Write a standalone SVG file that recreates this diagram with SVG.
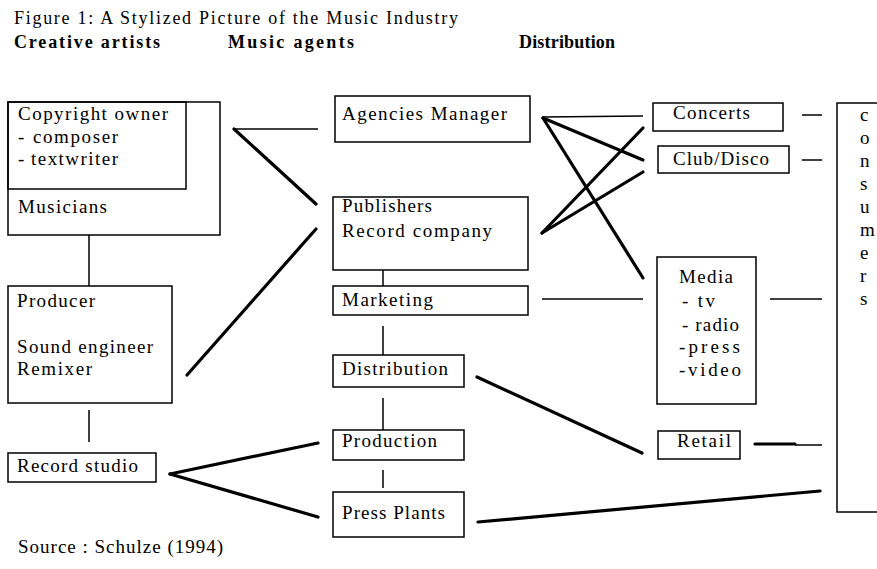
<svg xmlns="http://www.w3.org/2000/svg" width="877" height="569" viewBox="0 0 877 569">
<style>
text{font-family:"Liberation Serif","Times New Roman",serif;font-size:19px;fill:#000}
.t{font-size:18px}
.h{font-size:18px;font-weight:bold}
.box{fill:none;stroke:#000;stroke-width:1.5}
.thin{stroke:#000;stroke-width:1.5;fill:none}
.thick{stroke:#000;stroke-width:3.2;fill:none;stroke-linecap:round}
</style>
<rect width="877" height="569" fill="#fff"/>
<text class="t" x="14" y="24" textLength="444" lengthAdjust="spacing">Figure 1: A Stylized Picture of the Music Industry</text>
<text class="h" x="14" y="48" textLength="146" lengthAdjust="spacing">Creative artists</text>
<text class="h" x="228" y="48" textLength="126" lengthAdjust="spacing">Music agents</text>
<text class="h" x="519" y="48" textLength="96" lengthAdjust="spacing">Distribution</text>

<g id="connectors">
<line class="thin" x1="89" y1="235" x2="89" y2="286"/>
<line class="thin" x1="89" y1="410" x2="89" y2="442"/>
<line class="thin" x1="234" y1="129" x2="318" y2="129"/>
<line class="thick" x1="234" y1="129" x2="316" y2="204"/>
<line class="thick" x1="187" y1="375" x2="316" y2="229"/>
<line class="thin" x1="383" y1="270" x2="383" y2="286"/>
<line class="thin" x1="383" y1="326" x2="383" y2="355"/>
<line class="thin" x1="383" y1="398" x2="383" y2="430"/>
<line class="thin" x1="383" y1="470" x2="383" y2="488"/>
<line class="thin" x1="543" y1="117" x2="643" y2="116"/>
<line class="thick" x1="543" y1="118" x2="643" y2="160"/>
<line class="thick" x1="543" y1="118" x2="643" y2="278"/>
<line class="thick" x1="542" y1="233" x2="643" y2="128"/>
<line class="thick" x1="542" y1="233" x2="643" y2="172"/>
<line class="thin" x1="542" y1="299" x2="643" y2="299"/>
<line class="thin" x1="770" y1="299" x2="822" y2="299"/>
<line class="thin" x1="802" y1="115" x2="822" y2="115"/>
<line class="thin" x1="802" y1="160" x2="822" y2="160"/>
<line class="thick" x1="477" y1="377" x2="642" y2="453"/>
<line class="thick" x1="755" y1="444" x2="795" y2="444"/>
<line class="thin" x1="795" y1="445" x2="822" y2="445"/>
<line class="thick" x1="170" y1="474" x2="318" y2="443"/>
<line class="thick" x1="170" y1="474" x2="318" y2="517"/>
<line class="thick" x1="478" y1="522" x2="820" y2="491"/>
</g>

<g id="musicians">
<rect class="box" x="8" y="102" width="212" height="133"/>
<text x="18" y="213" textLength="89" lengthAdjust="spacing">Musicians</text>
</g>
<g id="copyright-owner">
<rect class="box" x="8" y="102" width="178" height="87"/>
<text x="18" y="120" textLength="150" lengthAdjust="spacing">Copyright owner</text>
<text y="143"><tspan x="18">-</tspan><tspan x="33" textLength="85" lengthAdjust="spacing">composer</tspan></text>
<text y="165"><tspan x="18">-</tspan><tspan x="31" textLength="87" lengthAdjust="spacing">textwriter</tspan></text>
</g>
<g id="producer">
<rect class="box" x="8" y="286" width="164" height="117"/>
<text x="17" y="307" textLength="78" lengthAdjust="spacing">Producer</text>
<text x="17" y="353" textLength="136" lengthAdjust="spacing">Sound engineer</text>
<text x="17" y="375" textLength="75" lengthAdjust="spacing">Remixer</text>
</g>
<g id="record-studio">
<rect class="box" x="8" y="453" width="148" height="29"/>
<text x="17" y="472" textLength="121" lengthAdjust="spacing">Record studio</text>
</g>
<g id="agencies-manager">
<rect class="box" x="335" y="96" width="195" height="46"/>
<text x="342" y="120" textLength="165" lengthAdjust="spacing">Agencies Manager</text>
</g>
<g id="publishers">
<rect class="box" x="333" y="197" width="195" height="73"/>
<text x="342" y="212" textLength="90" lengthAdjust="spacing">Publishers</text>
<text x="342" y="237" textLength="150" lengthAdjust="spacing">Record company</text>
</g>
<g id="marketing">
<rect class="box" x="333" y="286" width="195" height="29"/>
<text x="342" y="306" textLength="91" lengthAdjust="spacing">Marketing</text>
</g>
<g id="distribution">
<rect class="box" x="333" y="355" width="131" height="32"/>
<text x="342" y="375" textLength="106" lengthAdjust="spacing">Distribution</text>
</g>
<g id="production">
<rect class="box" x="333" y="430" width="131" height="30"/>
<text x="342" y="447" textLength="95" lengthAdjust="spacing">Production</text>
</g>
<g id="press-plants">
<rect class="box" x="333" y="492" width="131" height="45"/>
<text x="342" y="519" textLength="103" lengthAdjust="spacing">Press Plants</text>
</g>
<g id="concerts">
<rect class="box" x="653" y="103" width="130" height="28"/>
<text x="673" y="119" textLength="77" lengthAdjust="spacing">Concerts</text>
</g>
<g id="club-disco">
<rect class="box" x="658" y="146" width="131" height="27"/>
<text x="673" y="165" textLength="96" lengthAdjust="spacing">Club/Disco</text>
</g>
<g id="media">
<rect class="box" x="657" y="257" width="99" height="147"/>
<text x="679" y="283" textLength="54" lengthAdjust="spacing">Media</text>
<text x="682" y="307" textLength="33" lengthAdjust="spacing">- tv</text>
<text x="682" y="331" textLength="57" lengthAdjust="spacing">- radio</text>
<text x="679" y="353" textLength="61" lengthAdjust="spacing">-press</text>
<text x="679" y="376" textLength="62" lengthAdjust="spacing">-video</text>
</g>
<g id="retail">
<rect class="box" x="658" y="431" width="82" height="28"/>
<text x="677" y="447" textLength="54" lengthAdjust="spacing">Retail</text>
</g>
<g id="consumers">
<rect class="box" x="837" y="103" width="60" height="409"/>
<text x="860" y="121">c</text>
<text x="860" y="144">o</text>
<text x="860" y="167">n</text>
<text x="860" y="190">s</text>
<text x="860" y="213">u</text>
<text x="860" y="236">m</text>
<text x="860" y="259">e</text>
<text x="860" y="282">r</text>
<text x="860" y="305">s</text>
</g>
<text x="18" y="553" textLength="205" lengthAdjust="spacing">Source : Schulze (1994)</text>
</svg>
